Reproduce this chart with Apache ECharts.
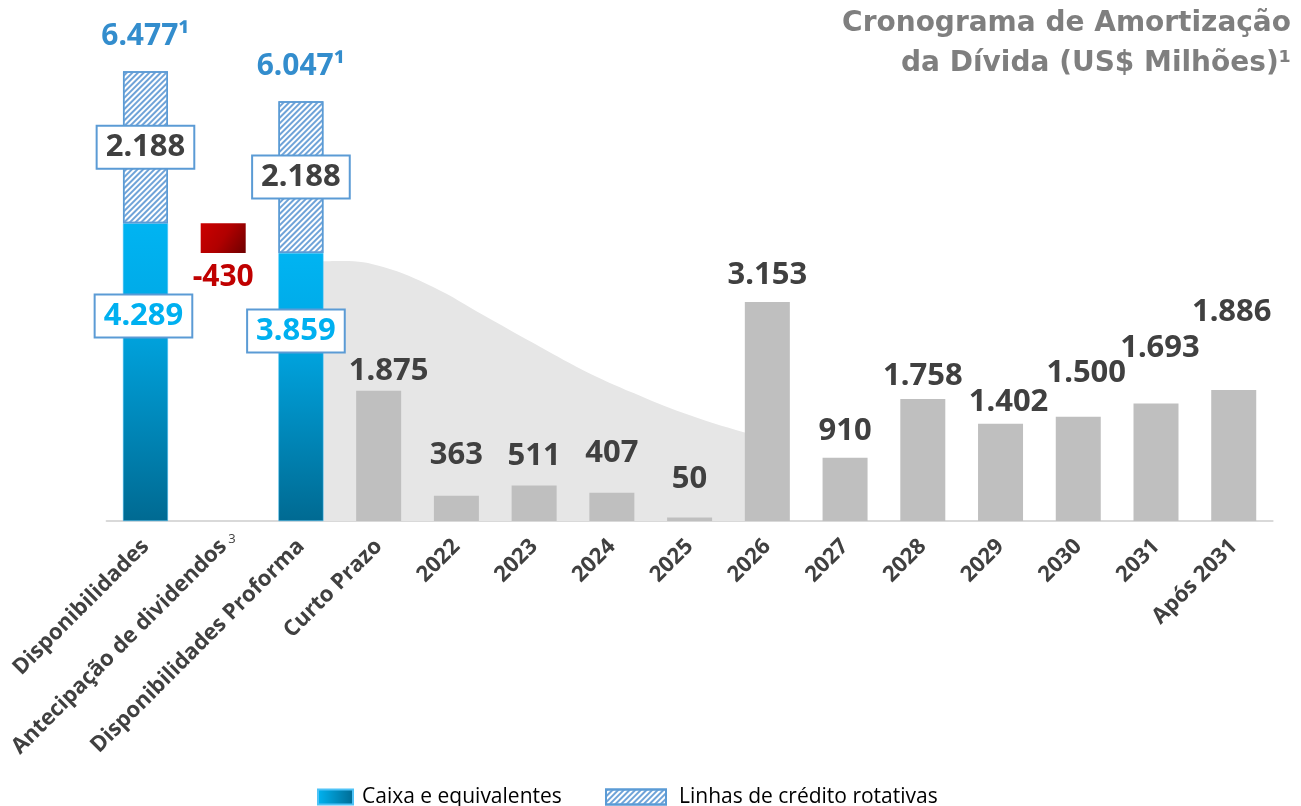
<!DOCTYPE html>
<html>
<head>
<meta charset="utf-8">
<script src="https://cdn.jsdelivr.net/npm/echarts@6/dist/echarts.min.js"></script>
<style>
html,body{margin:0;padding:0;background:#fff;}
#chart{width:1301px;height:806px;}
</style>
</head>
<body>
<div id="chart"></div>
<script>
// ---- Data ----
const categories = ['Disponibilidades','Antecipação de dividendos','Disponibilidades Proforma','Curto Prazo','2022','2023','2024','2025','2026','2027','2028','2029','2030','2031','Após 2031'];
const cashValues   = [4289, null, 3859];          // Caixa e equivalentes
const creditValues = [2188, null, 2188];          // Linhas de crédito rotativas
const totalValues  = [6477, null, 6047];
const dividendAdjustment = -430;                  // Antecipação de dividendos
const debtCategories = ['Curto Prazo','2022','2023','2024','2025','2026','2027','2028','2029','2030','2031','Após 2031'];
const debtValues = [1875, 363, 511, 407, 50, 3153, 910, 1758, 1402, 1500, 1693, 1886];
// decorative shaded curve (category-index position, value)
const curveX = [2.2, 2.54, 3.06, 3.70, 4.35, 4.99, 5.63, 6.28, 6.92, 7.72, 7.95];
const curveY = [3740, 3746, 3660, 3372, 2965, 2562, 2173, 1842, 1554, 1271, 1230];
const titleLines = ['Cronograma de Amortização', 'da Dívida (US$ Milhões)¹'];
// label vertical nudges for debt labels (styling)
const debtLabelNudge = [0, -21, -10, -20, -19, -7, -7, -3, -2, -24, -36, -58];
const debtLabelShiftX = [10, 0, 0, 0, 0, 0, 0, 0, 8, 8, 4, -2];

const fmt = v => Math.abs(v).toLocaleString('de-DE');
const idx = c => categories.indexOf(c);

// build series arrays
const cashData = categories.map((c,i) => cashValues[i] != null ? cashValues[i] : '-');
const creditData = categories.map((c,i) => creditValues[i] != null ? creditValues[i] : '-');
const totalData = categories.map((c,i) => totalValues[i] != null ? totalValues[i] : '-');
const divIdx = idx('Antecipação de dividendos');
const baseData = categories.map((c,i) => i === divIdx ? cashValues[2] : '-');
const divData = categories.map((c,i) => i === divIdx ? Math.abs(dividendAdjustment) : '-');
const debtData = categories.map(c => {
  const k = debtCategories.indexOf(c);
  if (k < 0) return '-';
  return {value: debtValues[k], label: {offset: [debtLabelShiftX[k], debtLabelNudge[k]]}};
});

const cashLabelOffsets = [[-2,-56],[0,0],[-5,-56]];
const cashDataStyled = cashData.map((v,i) => v === '-' ? v : {value: v, label: {offset: cashLabelOffsets[i]}});

const numFont = '"Noto Sans", sans-serif';
const numWeight = 'bold';
const blueGrad = new echarts.graphic.LinearGradient(0,0,0,1,[
  {offset:0,color:'#00b4f2'},{offset:0.3,color:'#00a9e6'},{offset:1,color:'#006a92'}]);
const redGrad = new echarts.graphic.LinearGradient(0,0,1,1,[
  {offset:0,color:'#cc0000'},{offset:0.5,color:'#b00000'},{offset:1,color:'#6e0000'}]);
const hatch = {
  color: '#6fa3d8',
  dashArrayX: [1, 0],
  dashArrayY: [2, 2],
  symbolSize: 1,
  rotation: -Math.PI / 4
};
const legendGrad = new echarts.graphic.LinearGradient(0,0,1,0,[
  {offset:0,color:'#00b4f2'},{offset:1,color:'#006a92'}]);

const chart = echarts.init(document.getElementById('chart'), null, {renderer:'canvas'});
const option = {
  animation: false,
  backgroundColor: '#ffffff',
  grid: {left: 106.6, width: 1166, top: 35, bottom: 285, containLabel: false},
  xAxis: [{
    type: 'category',
    data: categories,
    axisTick: {show: false},
    axisLine: {show: true, lineStyle: {color: '#d9d9d9', width: 2}},
    axisLabel: {
      rotate: 45, interval: 0, margin: 22,
      color: '#404040', fontFamily: '"Open Sans", sans-serif', fontWeight: 'bold', fontSize: 22
    }
  }, {
    type: 'value', min: -0.5, max: 14.5, show: false
  }],
  yAxis: {type: 'value', min: 0, max: 7000, show: false, splitLine: {show: false}},
  legend: [{
    left: 312, top: 779, itemWidth: 35, itemHeight: 15,
    icon: 'rect',
    data: [{name: 'Caixa e equivalentes', itemStyle: {color: legendGrad}}],
    textStyle: {fontFamily: '"Open Sans", sans-serif', fontSize: 21, color: '#000', lineHeight: 26, padding: [0,0,0,4]}
  }, {
    left: 600, top: 779, itemWidth: 60, itemHeight: 15,
    icon: 'rect',
    data: ['Linhas de crédito rotativas'],
    textStyle: {fontFamily: '"Open Sans", sans-serif', fontSize: 21, color: '#000', lineHeight: 26, padding: [0,0,0,8]}
  }],
  series: [
    {
      name: 'curve', type: 'line', xAxisIndex: 1, yAxisIndex: 0,
      data: curveX.map((x,i) => [x, curveY[i]]),
      smooth: 0.4, symbol: 'none', silent: true,
      lineStyle: {width: 0, color: '#e6e6e6'},
      areaStyle: {color: '#e6e6e6', opacity: 1}, z: 1
    },
    {
      name: 'Caixa e equivalentes', type: 'bar', stack: 'a', barWidth: 45,
      data: cashDataStyled, z: 3,
      itemStyle: {color: blueGrad, borderColor: '#4fc3f7', borderWidth: 0.5},
      label: {
        show: true, position: 'inside',
        formatter: p => fmt(p.value),
        fontFamily: numFont, fontWeight: numWeight, fontSize: 31, color: '#00b0f0',
        backgroundColor: '#ffffff', borderColor: '#5b9bd5', borderWidth: 2,
        padding: [1, 8, 0, 8], lineHeight: 40
      }
    },
    {
      name: 'base', type: 'bar', stack: 'a', barWidth: 45, data: baseData, silent: true,
      itemStyle: {color: 'rgba(0,0,0,0)'}, z: 3
    },
    {
      name: 'dividendos', type: 'bar', stack: 'a', barWidth: 45, data: divData, z: 3,
      itemStyle: {color: redGrad},
      label: {
        show: true, position: 'bottom', distance: 9,
        formatter: () => '-' + fmt(dividendAdjustment),
        fontFamily: numFont, fontWeight: numWeight, fontSize: 30, color: '#c00000'
      }
    },
    {
      name: 'Linhas de crédito rotativas', type: 'bar', stack: 'a', barWidth: 45, data: creditData, z: 3,
      itemStyle: {color: '#ffffff', borderColor: '#5b9bd5', borderWidth: 1.5, decal: hatch},
      label: {
        show: true, position: 'inside',
        formatter: p => fmt(p.value),
        fontFamily: numFont, fontWeight: numWeight, fontSize: 31, color: '#404040',
        backgroundColor: '#ffffff', borderColor: '#5b9bd5', borderWidth: 2,
        padding: [1, 8, 0, 8], lineHeight: 40
      }
    },
    {
      name: 'debt', type: 'bar', stack: 'a', barWidth: 45, data: debtData, z: 3,
      itemStyle: {color: '#bfbfbf'},
      label: {
        show: true, position: 'top', distance: 4,
        formatter: p => fmt(p.value),
        fontFamily: numFont, fontWeight: numWeight, fontSize: 31, color: '#404040'
      }
    },
    {
      name: 'total', type: 'scatter', data: totalData, symbolSize: 0, z: 4,
      label: {
        show: true, position: 'top', distance: 20,
        formatter: p => fmt(p.value) + '¹',
        fontFamily: numFont, fontWeight: numWeight, fontSize: 30, color: '#0070c0'
      }
    }
  ],
  graphic: titleLines.map((t, i) => ({
    type: 'text', right: 10, top: 10 + i * 40,
    style: {text: t, fill: '#7f7f7f', font: 'bold 28px "DejaVu Sans", sans-serif'}
  }))
};
chart.setOption(option);
// superscript "3" next to the dividend label
const p = chart.convertToPixel({xAxisIndex: 0, yAxisIndex: 0}, [divIdx, 0]);
chart.setOption({graphic: option.graphic.concat([{
  type: 'text', x: p[0] + 5, y: p[1] + 12,
  style: {text: '3', fill: '#404040', font: '13px "Open Sans", sans-serif'}
}])});
</script>
</body>
</html>
